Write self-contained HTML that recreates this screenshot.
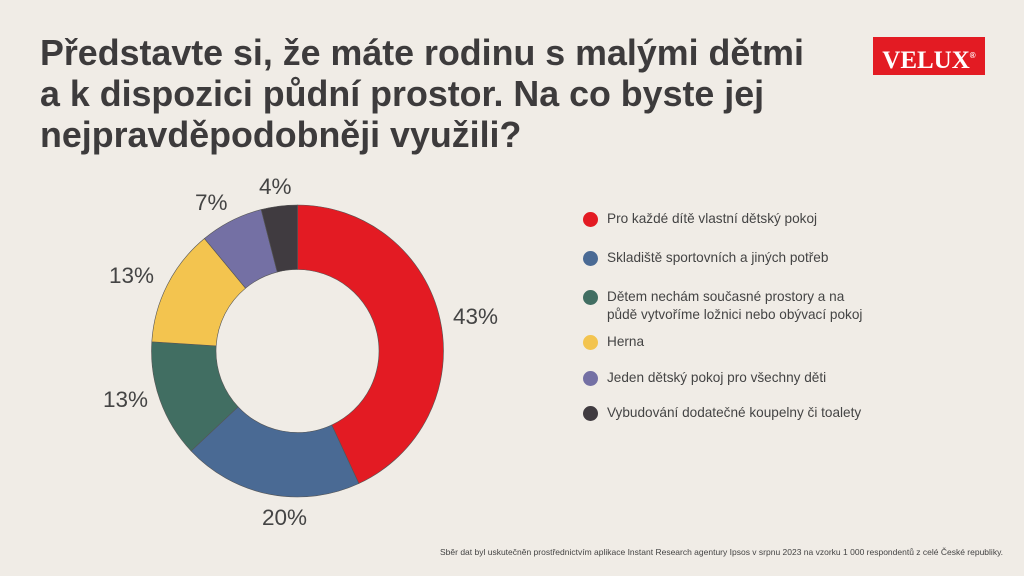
<!DOCTYPE html>
<html><head><meta charset="utf-8"><style>
body{margin:0;width:1024px;height:576px;background:#f0ece6;position:relative;overflow:hidden;font-family:"Liberation Sans",sans-serif;color:#3d3b3c}
.t{position:absolute;left:40px;top:33px;font-size:35.8px;font-weight:bold;line-height:41px;color:#3d3b3c;white-space:nowrap}
.logo{position:absolute;left:873px;top:37px;width:112px;height:38px;background:#e31b23;color:#fff;font-family:"Liberation Serif",serif;font-weight:bold;font-size:25px;text-align:center;line-height:38px}
.logo sup{font-size:8px;font-family:"Liberation Sans";vertical-align:10px}
.lg{position:absolute;left:583px;font-size:13.6px;color:#444;line-height:18px}
.lg i{position:absolute;left:0;top:2px;width:15px;height:15px;border-radius:50%}
.lg span{position:absolute;left:24px;white-space:nowrap}
.p{position:absolute;font-size:22.5px;color:#444}
.f{position:absolute;left:440px;top:547px;font-size:8.5px;color:#444;white-space:nowrap}
</style></head><body>
<div class="t">Představte si, že máte rodinu s malými dětmi<br>a k dispozici půdní prostor. Na co byste jej<br>nejpravděpodobněji využili?</div>
<div class="logo">VELUX<sup>®</sup></div>
<svg width="1024" height="576" style="position:absolute;left:0;top:0" id="s"></svg>
<div class="p" style="left:259px;top:174px">4%</div>
<div class="p" style="left:195px;top:190px">7%</div>
<div class="p" style="left:109px;top:263px">13%</div>
<div class="p" style="left:103px;top:387px">13%</div>
<div class="p" style="left:453px;top:304px">43%</div>
<div class="p" style="left:262px;top:505px">20%</div>
<div class="lg" style="top:210px"><i style="background:#e31b23"></i><span>Pro každé dítě vlastní dětský pokoj</span></div>
<div class="lg" style="top:249px"><i style="background:#4a6a94"></i><span>Skladiště sportovních a jiných potřeb</span></div>
<div class="lg" style="top:288px"><i style="background:#416e62"></i><span>Dětem nechám současné prostory a na<br>půdě vytvoříme ložnici nebo obývací pokoj</span></div>
<div class="lg" style="top:333px"><i style="background:#f3c44f"></i><span>Herna</span></div>
<div class="lg" style="top:369px"><i style="background:#7470a4"></i><span>Jeden dětský pokoj pro všechny děti</span></div>
<div class="lg" style="top:404px"><i style="background:#403b40"></i><span>Vybudování dodatečné koupelny či toalety</span></div>
<div class="f">Sběr dat byl uskutečněn prostřednictvím aplikace Instant Research agentury Ipsos v srpnu 2023 na vzorku 1 000 respondentů z celé České republiky.</div>
<script>
var cx=297.5,cy=351,R=146,r=81.5,cum=[0,43.1,63,76,89,96,100],col=["#e31b23","#4a6a94","#416e62","#f3c44f","#7470a4","#403b40"],h="";
function pt(p,rad){var a=p/100*2*Math.PI;return [cx+rad*Math.sin(a),cy-rad*Math.cos(a)];}
for(var i=0;i<6;i++){var a=cum[i],b=cum[i+1],l=(b-a)>50?1:0,p1=pt(a,R),p2=pt(b,R),p3=pt(b,r),p4=pt(a,r);
h+='<path d="M'+p1+' A'+R+' '+R+' 0 '+l+' 1 '+p2+' L'+p3+' A'+r+' '+r+' 0 '+l+' 0 '+p4+' Z" fill="'+col[i]+'" stroke="#555" stroke-width="0.6"/>';}
document.getElementById("s").innerHTML=h;
</script>
</body></html>
